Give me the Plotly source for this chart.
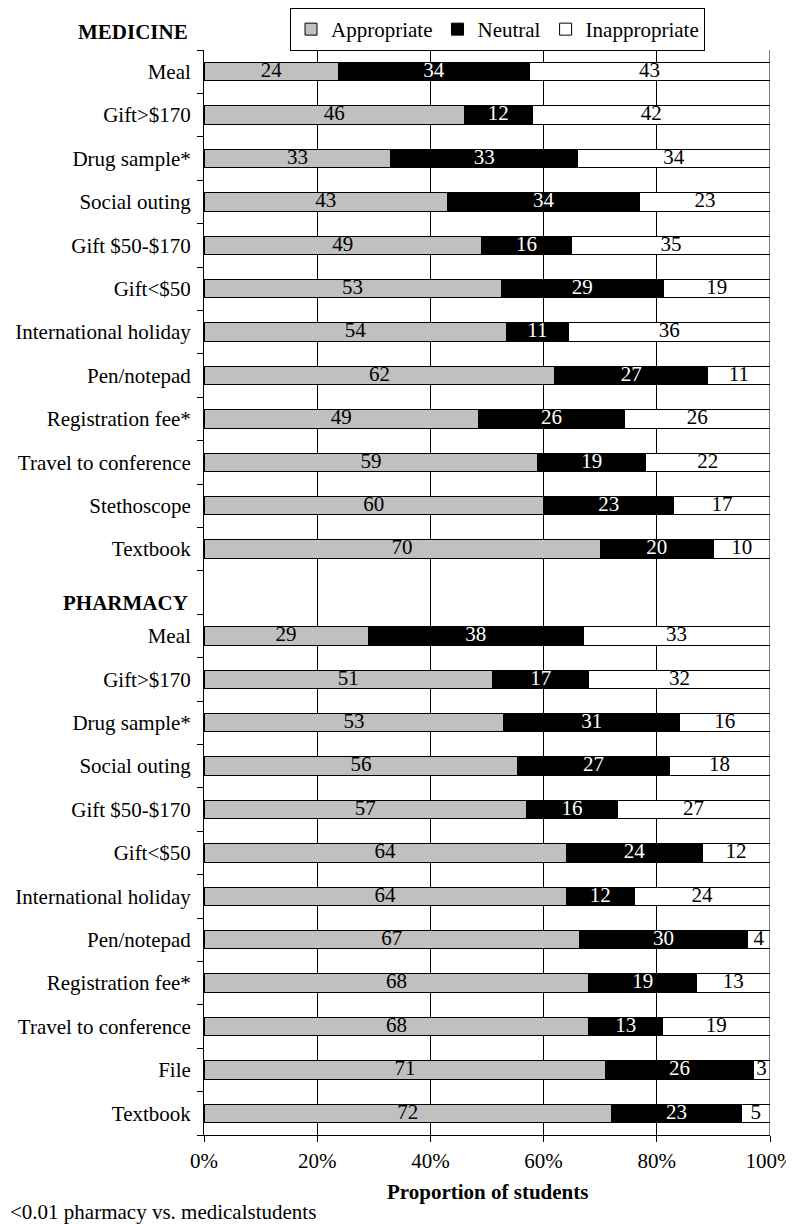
import plotly.graph_objects as go

# ---- data ----
med_items = ["Meal", "Gift>$170", "Drug sample*", "Social outing", "Gift $50-$170", "Gift<$50",
             "International holiday", "Pen/notepad", "Registration fee*", "Travel to conference",
             "Stethoscope", "Textbook"]
med_appropriate = [24, 46, 33, 43, 49, 53, 54, 62, 49, 59, 60, 70]
med_neutral = [34, 12, 33, 34, 16, 29, 11, 27, 26, 19, 23, 20]
med_inappropriate = [43, 42, 34, 23, 35, 19, 36, 11, 26, 22, 17, 10]

pha_items = ["Meal", "Gift>$170", "Drug sample*", "Social outing", "Gift $50-$170", "Gift<$50",
             "International holiday", "Pen/notepad", "Registration fee*", "Travel to conference",
             "File", "Textbook"]
pha_appropriate = [29, 51, 53, 56, 57, 64, 64, 67, 68, 68, 71, 72]
pha_neutral = [38, 17, 31, 27, 16, 24, 12, 30, 19, 13, 26, 23]
pha_inappropriate = [33, 32, 16, 18, 27, 12, 24, 4, 13, 19, 3, 5]

series_names = ["Appropriate", "Neutral", "Inappropriate"]
x_ticks = [0, 20, 40, 60, 80, 100]
x_tick_labels = ["0%", "20%", "40%", "60%", "80%", "100%"]

# ---- rows: medicine, one empty slot, pharmacy ----
med_pos = list(range(len(med_items)))
pha_pos = [len(med_items) + 1 + i for i in range(len(pha_items))]
positions = med_pos + pha_pos
labels = med_items + pha_items
n_slots = len(med_items) + 1 + len(pha_items)

values = {
    "Appropriate": med_appropriate + pha_appropriate,
    "Neutral": med_neutral + pha_neutral,
    "Inappropriate": med_inappropriate + pha_inappropriate,
}
fills = {"Appropriate": "#c0c0c0", "Neutral": "#000000", "Inappropriate": "#ffffff"}
text_colors = {"Appropriate": "#000000", "Neutral": "#ffffff", "Inappropriate": "#000000"}

FONT = "Liberation Serif"
FS = 21

fig = go.Figure()
for name in series_names:
    fig.add_trace(go.Bar(
        name=name,
        y=positions,
        x=values[name],
        orientation="h",
        width=0.42,
        marker=dict(color=fills[name], line=dict(color="#000000", width=1)),
        textposition="none",
        hoverinfo="skip",
    ))

# value labels centred in each (normalised) segment
totals = [sum(values[n][k] for n in series_names) for k in range(len(positions))]
cum = [0.0] * len(positions)
for name in series_names:
    mids = []
    for k, v in enumerate(values[name]):
        mids.append((cum[k] + v / 2) * 100.0 / totals[k])
        cum[k] += v
    fig.add_trace(go.Scatter(
        x=mids, y=positions, mode="text",
        text=[str(v) for v in values[name]],
        textposition="middle center",
        textfont=dict(family=FONT, size=FS, color=text_colors[name]),
        showlegend=False, hoverinfo="skip", cliponaxis=False,
    ))

fig.update_layout(
    barmode="stack",
    barnorm="percent",
    width=794,
    height=1224,
    margin=dict(l=196, r=32, t=42, b=97, autoexpand=False),
    paper_bgcolor="white",
    plot_bgcolor="white",
    font=dict(family=FONT, size=FS, color="#000000"),
    showlegend=True,
    legend=dict(
        orientation="h",
        xref="container", yref="container",
        x=0.6165, xanchor="center",
        y=1.0, yanchor="top",
        bordercolor="#000000", borderwidth=1,
        bgcolor="white",
        font=dict(family=FONT, size=FS),
        traceorder="normal",
        itemclick=False, itemwidth=30,
    ),
    xaxis=dict(
        range=[0, 100],
        tickvals=x_ticks,
        ticktext=x_tick_labels,
        ticks="outside", ticklen=6, tickcolor="#000000",
        showline=True, linecolor="#000000", linewidth=1,
        showgrid=True, gridcolor="#000000", gridwidth=1,
        zeroline=False, automargin=False,
        tickfont=dict(family=FONT, size=FS),
        ticklabelstandoff=1,
    ),
    yaxis=dict(
        range=[n_slots - 0.5, -0.5],
        tickvals=positions,
        ticktext=labels,
        ticks="", showgrid=False, zeroline=False, automargin=False,
        showline=True, linecolor="#000000", linewidth=1,
        tickfont=dict(family=FONT, size=FS),
        ticklabelstandoff=8,
        minor=dict(
            tickmode="array",
            tickvals=[i - 0.5 for i in range(n_slots + 1)],
            ticks="outside", ticklen=6, tickcolor="#000000", showgrid=False,
        ),
    ),
)

# right border line at 100%
fig.add_shape(type="line", xref="x", yref="paper", x0=100, x1=100, y0=0, y1=1,
              line=dict(color="#000000", width=1))

plot_h = 1224 - 42 - 97
fig.add_annotation(text="<b>MEDICINE</b>", xref="paper", yref="paper",
                   x=0, y=1 + 18 / plot_h, xanchor="right", yanchor="middle", xshift=-14,
                   showarrow=False, font=dict(family=FONT, size=FS))
fig.add_annotation(text="<b>PHARMACY</b>", xref="paper", yref="y",
                   x=0, y=len(med_items), xanchor="right", yanchor="middle", yshift=-10, xshift=-14,
                   showarrow=False, font=dict(family=FONT, size=FS))
fig.add_annotation(text="<b>Proportion of students</b>", xref="paper", yref="paper",
                   x=0.5, y=-57 / plot_h, xanchor="center", yanchor="middle",
                   showarrow=False, font=dict(family=FONT, size=FS))
fig.add_annotation(text="<0.01 pharmacy vs. medicalstudents", xref="paper", yref="paper",
                   x=-196 / 566, y=-77 / plot_h, xanchor="left", yanchor="middle",
                   showarrow=False, font=dict(family=FONT, size=FS))

fig.write_html("out.html")
